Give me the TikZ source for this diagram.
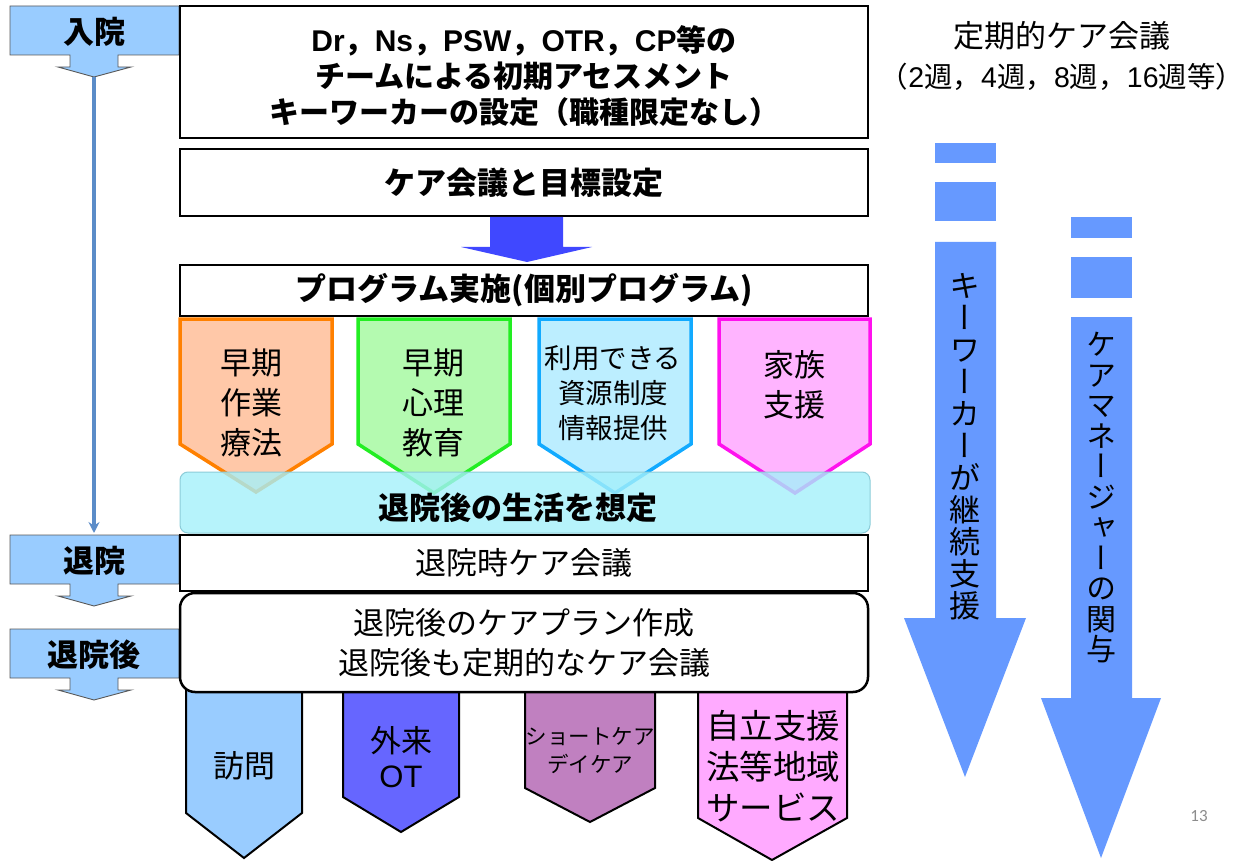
\documentclass[tikz,border=0pt]{standalone}
\usepackage{fontspec}
\setmainfont{Noto Sans CJK JP}
\newfontfamily\vfont[RawFeature=+vert]{Noto Sans CJK JP}
\newfontfamily\lat{Liberation Sans}
\newfontfamily\pgfont{Carlito}
\usetikzlibrary{arrows.meta}
\definecolor{tabfill}{HTML}{99CCFF}
\definecolor{vline}{HTML}{5B8CC8}
\definecolor{midarrow}{HTML}{4048FF}
\definecolor{bigarrow}{HTML}{6699FF}
\definecolor{oBorder}{HTML}{FF8000}
\definecolor{oFill}{HTML}{FFC8A8}
\definecolor{gBorder}{HTML}{22EE22}
\definecolor{gFill}{HTML}{B4FAB0}
\definecolor{bBorder}{HTML}{11AAFF}
\definecolor{bFill}{HTML}{BCEEFF}
\definecolor{mBorder}{HTML}{FF11EE}
\definecolor{mFill}{HTML}{FFB4FF}
\definecolor{bandFill}{HTML}{A4F0FA}
\definecolor{bandBorder}{HTML}{8CCCD8}
\definecolor{visitFill}{HTML}{99CCFF}
\definecolor{otFill}{HTML}{6666FF}
\definecolor{scFill}{HTML}{C080C0}
\definecolor{svFill}{HTML}{FFAAFF}
\begin{document}
\begin{tikzpicture}[x=1pt,y=-1pt,
  box/.style={draw=black,line width=2.5pt,fill=white,inner sep=0pt,align=center},
  tabst/.style={draw=black!65,line width=0.9pt,fill=tabfill},
  tabtext/.style={font=\bfseries\fontsize{31}{34}\selectfont,inner sep=0pt},
  ptext/.style={align=center,inner sep=0pt,font=\fontsize{31}{40}\selectfont},
  toppent/.style={line width=3.5pt,line join=miter},
  botpent/.style={draw=black,line width=2pt,line join=miter},
  vtext/.style={align=center,inner sep=0pt}]
\useasboundingbox (0,0) rectangle (1253,861);
\fill[white] (0,0) rectangle (1253,861);

% ---- left tabs
\newcommand\tabshape[4]{%
  \draw[tabst] (10,#1) -- (179,#1) -- (179,#1+49) -- (118,#1+49) -- (118,#1+61) -- (131,#1+61) -- (94,#1+71) -- (58,#1+61) -- (70,#1+61) -- (70,#1+49) -- (10,#1+49) -- cycle;
  \node[tabtext] (#2) at (94,#1+26) {#3};
  \coordinate (#4) at (94,#1+71);}
\tabshape{6}{tabin}{入院}{tipin}
\tabshape{535}{tabout}{退院}{tipout}
\tabshape{629}{tabafter}{退院後}{tipafter}
\coordinate (tabouttop) at (94,533);
\draw[vline,line width=3.2pt,-{Stealth[length=11pt,width=11pt]}] (tipin) -- (tabouttop);

% ---- main boxes
\node[box,minimum width=688pt,minimum height=132pt] (assess) at (524,72) {};
\node[align=center,inner sep=0pt,font=\bfseries\fontsize{30}{36}\selectfont] (assesstext) at (524,76)
  {{\lat\bfseries Dr}，{\lat\bfseries Ns}，{\lat\bfseries PSW}，{\lat\bfseries OTR}，{\lat\bfseries CP}等の\\チームによる初期アセスメント\\キーワーカーの設定（職種限定なし）};
\node[box,minimum width=688pt,minimum height=67pt,font=\bfseries\fontsize{31}{34}\selectfont] (goal) at (524,182.5) {ケア会議と目標設定};
\fill[midarrow] (490,217) -- (563,217) -- (563,247) -- (592,247) -- (527,262) -- (461,247) -- (490,247) -- cycle;
\node[box,minimum width=688pt,minimum height=51pt,font=\bfseries\fontsize{31}{34}\selectfont] (program) at (524,290.5) {プログラム実施(個別プログラム)};

% ---- program pentagons
\draw[toppent,draw=oBorder,fill=oFill] (180,319) -- (332,319) -- (332,444) -- (256,492) -- (180,444) -- cycle;
\node[ptext] (p1) at (251,403) {早期\\作業\\療法};
\draw[toppent,draw=gBorder,fill=gFill] (358,319) -- (510,319) -- (510,444) -- (434,493) -- (358,444) -- cycle;
\node[ptext] (p2) at (433,403) {早期\\心理\\教育};
\draw[toppent,draw=bBorder,fill=bFill] (539,319) -- (691,319) -- (691,444) -- (615,493) -- (539,444) -- cycle;
\node[ptext,font=\fontsize{27.5}{35}\selectfont] (p3) at (613,393) {利用できる\\資源制度\\情報提供};
\draw[toppent,draw=mBorder,fill=mFill] (719,319) -- (870,319) -- (870,444) -- (795,493) -- (719,444) -- cycle;
\node[ptext] (p4) at (794,385) {家族\\支援};

% ---- band
\draw[draw=bandBorder,fill=bandFill,fill opacity=0.8,line width=1pt,rounded corners=8pt] (180,472) rectangle (870,533);
\node[inner sep=0pt,font=\bfseries\fontsize{31}{34}\selectfont] (band) at (518,508) {退院後の生活を想定};

% ---- discharge boxes
\node[box,minimum width=688pt,minimum height=56pt,font=\fontsize{31}{34}\selectfont] (dconf) at (524,563) {退院時ケア会議};

% ---- bottom pentagons (behind rounded box)
\draw[botpent,fill=visitFill] (186,680) -- (302,680) -- (302,813) -- (244,858) -- (186,813) -- cycle;
\node[ptext] (b1) at (244,766) {訪問};
\draw[botpent,fill=otFill] (343,680) -- (459,680) -- (459,797) -- (401,832) -- (343,797) -- cycle;
\node[ptext,font=\fontsize{31}{35}\selectfont] (b2) at (401,757) {外来\\{\lat OT}};
\draw[botpent,fill=scFill] (525,680) -- (655,680) -- (655,788) -- (590,822) -- (525,788) -- cycle;
\node[ptext,font=\fontsize{21.5}{28}\selectfont] (b3) at (590,751) {ショートケア\\デイケア};
\draw[botpent,fill=svFill] (698,680) -- (847,680) -- (847,818) -- (772,860) -- (698,818) -- cycle;
\node[ptext,font=\fontsize{33.5}{41}\selectfont] (b4) at (773,766) {自立支援\\法等地域\\サービス};

\node[box,rounded corners=15pt,minimum width=688pt,minimum height=99pt,font=\fontsize{31}{40}\selectfont] (plan) at (524,642.5) {退院後のケアプラン作成\\退院後も定期的なケア会議};

% ---- right side
\node[align=center,inner sep=0pt,font=\fontsize{31}{40}\selectfont] (regular) at (1062,56) {定期的ケア会議\\{\fontsize{28.5}{30}\selectfont（{\lat 2}週，{\lat 4}週，{\lat 8}週，{\lat 16}週等）}};

\fill[bigarrow] (935,143) rectangle (996,163);
\fill[bigarrow] (935,182) rectangle (996,221);
\fill[bigarrow] (935,242) -- (996,242) -- (996,618) -- (1026,618) -- (965,777) -- (904,618) -- (935,618) -- cycle;
\node[vtext,font=\vfont\fontsize{31}{32}\selectfont] (kw) at (965,447) {キ\\ー\\ワ\\ー\\カ\\ー\\が\\継\\続\\支\\援};

\fill[bigarrow] (1071,217) rectangle (1132,238);
\fill[bigarrow] (1071,257) rectangle (1132,298);
\fill[bigarrow] (1071,317) -- (1132,317) -- (1132,698) -- (1161,698) -- (1101,858) -- (1041,698) -- (1071,698) -- cycle;
\node[vtext,font=\vfont\fontsize{30}{30.5}\selectfont] (cm) at (1101,498) {ケ\\ア\\マ\\ネ\\ー\\ジ\\ャ\\ー\\の\\関\\与};

\node[inner sep=0pt,text=black!45,font=\pgfont\fontsize{17}{20}\selectfont] (pageno) at (1199,816) {13};
\end{tikzpicture}
\end{document}
